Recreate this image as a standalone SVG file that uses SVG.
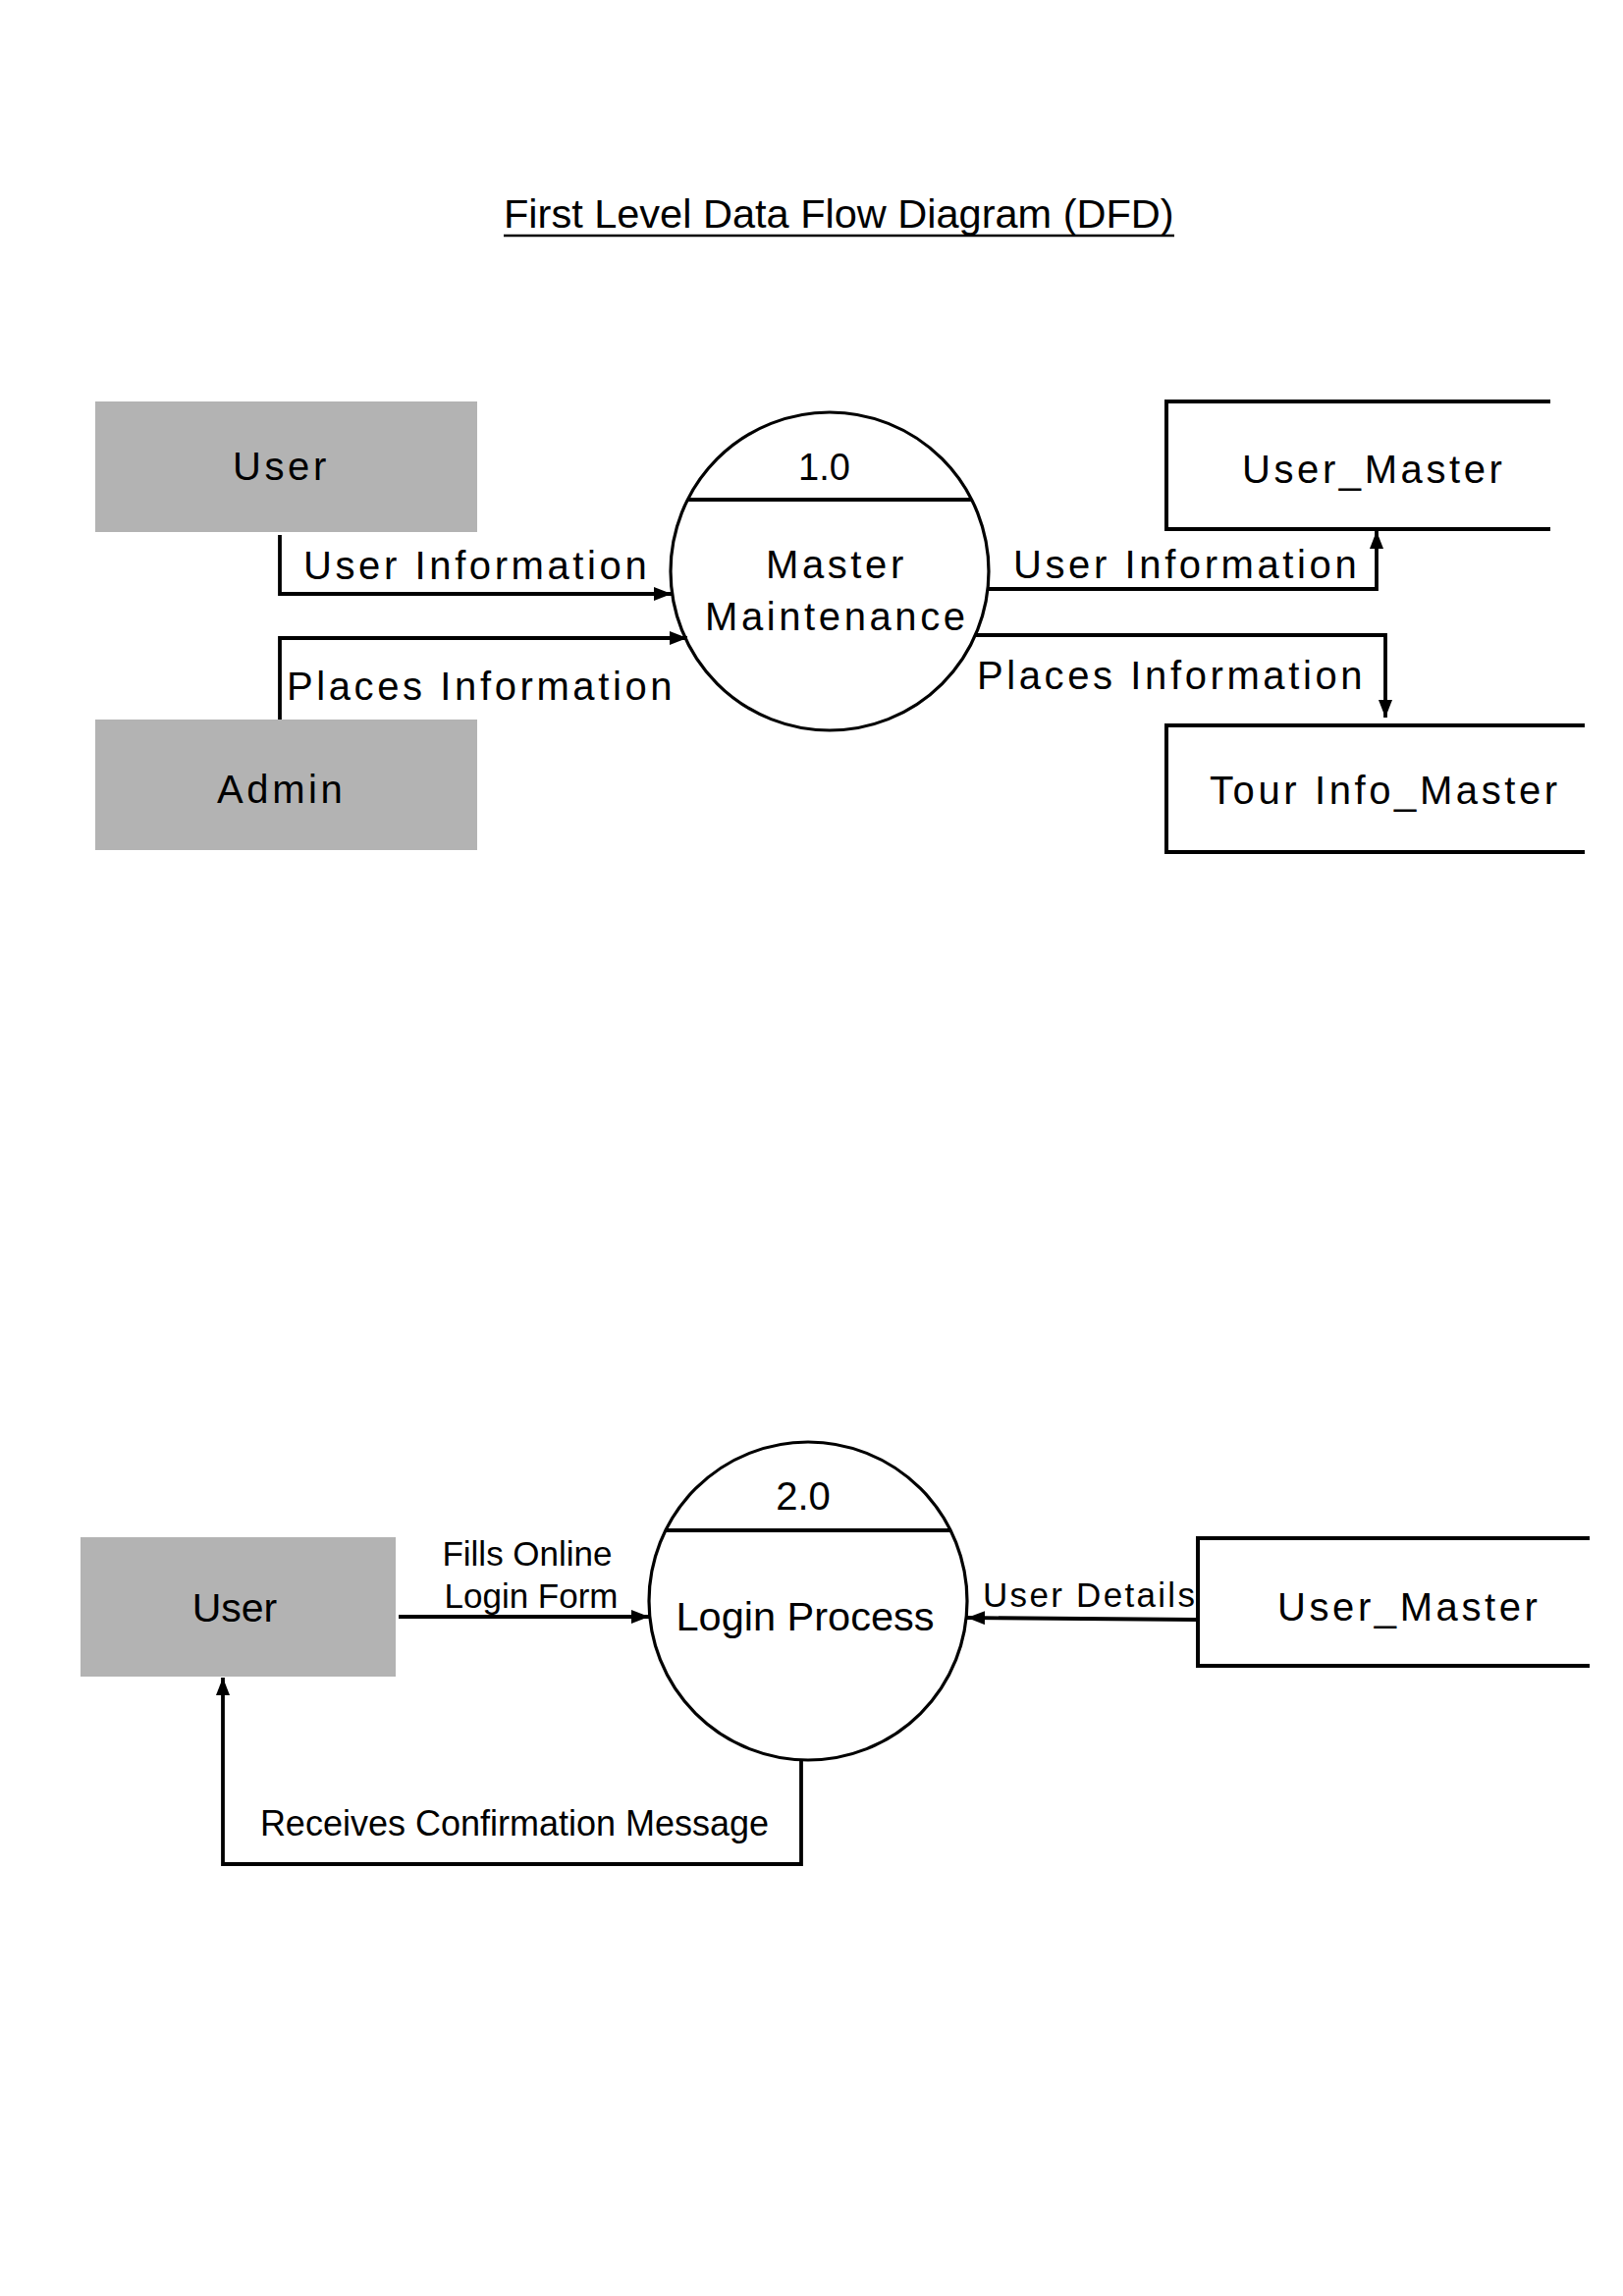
<svg xmlns="http://www.w3.org/2000/svg" width="1653" height="2339" viewBox="0 0 1653 2339">
<style>
.bg{fill:#ffffff}
.ext{fill:#b3b3b3;stroke:none}
.proc{fill:#ffffff;stroke:#000;stroke-width:3.2}
.div{stroke:#000;stroke-width:3.8}
.store{fill:none;stroke:#000;stroke-width:4}
.flow{fill:none;stroke:#000;stroke-width:3.8}
.t1{font-family:"Liberation Sans",Arial,sans-serif;font-size:40px;letter-spacing:3.6px;fill:#000}
.t1n{font-family:"Liberation Sans",Arial,sans-serif;font-size:38px;fill:#000}
.t2{font-family:"Liberation Sans",Arial,sans-serif;fill:#000}
</style>
<defs>
<marker id="arr" viewBox="0 0 18 14" markerUnits="userSpaceOnUse" markerWidth="18" markerHeight="14" refX="18" refY="7" orient="auto">
<path d="M0,0 L18,7 L0,14 z" fill="#000"/>
</marker>
</defs>
<rect class="bg" x="0" y="0" width="1653" height="2339"/>

<g id="title">
<text class="t2" x="513" y="232" font-size="41.5">First Level Data Flow Diagram (DFD)</text>
<line x1="513" y1="240" x2="1196" y2="240" stroke="#000" stroke-width="2.5"/>
</g>

<!-- Level 1.0 -->
<g id="user1">
<rect class="ext" x="97" y="409" width="389" height="133"/>
<text class="t1" x="237" y="489">User</text>
</g>
<g id="admin">
<rect class="ext" x="97" y="733" width="389" height="133"/>
<text class="t1" x="221" y="818">Admin</text>
</g>
<g id="proc1">
<circle class="proc" cx="845" cy="582" r="162"/>
<line class="div" x1="700" y1="509" x2="990" y2="509"/>
<text class="t1n" x="813" y="489">1.0</text>
<text class="t1" x="780" y="589">Master</text>
<text class="t1" x="718" y="642">Maintenance</text>
</g>
<g id="usermaster1">
<path class="store" d="M1579,409 H1188 V539 H1579"/>
<text class="t1" x="1265" y="492">User_Master</text>
</g>
<g id="tourmaster">
<path class="store" d="M1614,739 H1188 V868 H1614"/>
<text class="t1" x="1232" y="819">Tour Info_Master</text>
</g>

<!-- Level 2.0 -->
<g id="user2">
<rect class="ext" x="82" y="1566" width="321" height="142"/>
<text class="t2" x="239" y="1652" font-size="41" text-anchor="middle">User</text>
</g>
<g id="proc2">
<circle class="proc" cx="823" cy="1631" r="162"/>
<line class="div" x1="678" y1="1559" x2="968" y2="1559"/>
<text class="t2" x="818" y="1538" font-size="40" text-anchor="middle">2.0</text>
<text class="t2" x="820" y="1661" font-size="41.5" text-anchor="middle">Login Process</text>
</g>
<g id="usermaster2">
<path class="store" d="M1619,1567 H1220 V1697 H1619"/>
<text class="t1" x="1301" y="1651">User_Master</text>
</g>

<g id="connectors">
<path class="flow" d="M285,545 V605 H684" marker-end="url(#arr)"/>
<text class="t1" x="309" y="590">User Information</text>
<path class="flow" d="M285,733 V650 H700" marker-end="url(#arr)"/>
<text class="t1" x="292" y="713">Places Information</text>
<path class="flow" d="M1007,600 H1402 V541" marker-end="url(#arr)"/>
<text class="t1" x="1032" y="589">User Information</text>
<path class="flow" d="M994,647 H1411 V731" marker-end="url(#arr)"/>
<text class="t1" x="995" y="702">Places Information</text>

<path class="flow" d="M406,1647 H661" marker-end="url(#arr)"/>
<text class="t2" x="537" y="1595" font-size="35" text-anchor="middle">Fills Online</text>
<text class="t2" x="541" y="1638" font-size="35" text-anchor="middle">Login Form</text>
<path class="flow" d="M1220,1650 L985,1648" marker-end="url(#arr)"/>
<text class="t2" x="1001" y="1637" font-size="35" letter-spacing="2.3">User Details</text>
<path class="flow" d="M816,1793 V1899 H227 V1709" marker-end="url(#arr)"/>
<text class="t2" x="524" y="1870" font-size="36" text-anchor="middle">Receives Confirmation Message</text>
</g>
</svg>
